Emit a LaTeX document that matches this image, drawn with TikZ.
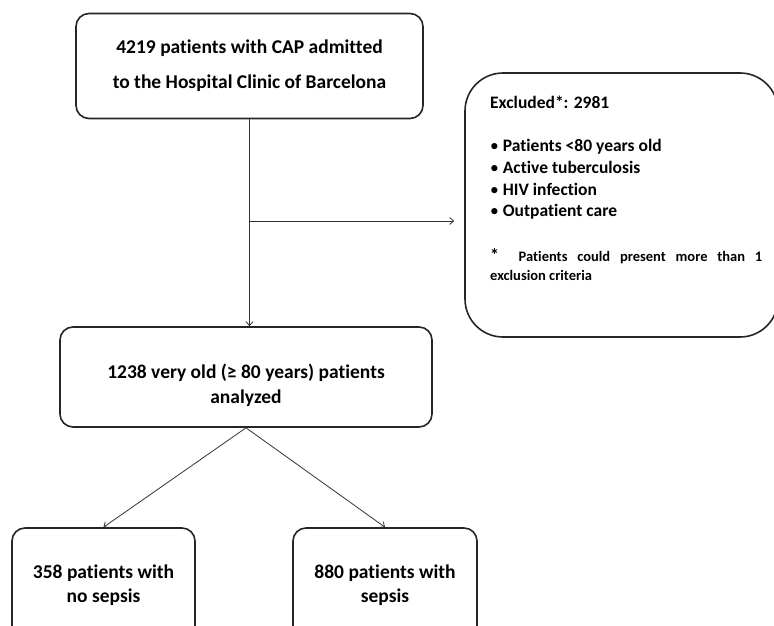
\documentclass[tikz,border=0pt]{standalone}
\usepackage{fontspec}
\setmainfont{Carlito}[Ligatures=NoCommon]
\usetikzlibrary{arrows.meta}
\newcommand{\blt}{{\mdseries •}\ }

\begin{document}
\begin{tikzpicture}[x=1pt,y=-1pt,
  every node/.style={font=\bfseries},
  box/.style={draw=black!85,line width=1.6pt,rounded corners=13pt,align=center,inner sep=0pt},
  arr/.style={draw=black!80,line width=0.8pt,-{Straight Barb[length=4pt,width=7pt]}}]
\useasboundingbox (0,0) rectangle (774,626);
            \node[box,minimum width=347pt,minimum height=105pt,font=\bfseries\fontsize{19.5}{35}\selectfont] (cap) at (249.5,66) {4219 patients with CAP admitted\\to the Hospital Clinic of Barcelona};
            \node[box,minimum width=313pt,minimum height=264pt,rounded corners=38pt] (excl) at (621.5,205) {};
            \node[anchor=north west,inner sep=0pt,text width=272pt,align=justify] (exctext) at (490,96)
              {\hyphenpenalty=10000\exhyphenpenalty=10000
               \fontsize{17.5}{21.8}\selectfont Excluded*: 2981\par\vspace{21pt}
               \blt Patients <80 years old\par \blt Active tuberculosis\par \blt HIV infection\par \blt Outpatient care\par\vspace{25pt}
               \fontsize{14.5}{19.5}\selectfont {\fontsize{18}{19.5}\selectfont *}\ \ Patients could present more than 1 exclusion criteria\par};
            \node[box,minimum width=372pt,minimum height=100pt,font=\bfseries\fontsize{19.5}{25}\selectfont] (old) at (246,377)
              {\raisebox{-13pt}[0pt][0pt]{\parbox{360pt}{\centering 1238 very old (≥ 80 years) patients\\analyzed}}};
            \node[box,minimum width=183pt,minimum height=115pt,font=\bfseries\fontsize{19.5}{24}\selectfont] (nosep) at (103.5,585.5) {358 patients with\\no sepsis};
            \node[box,minimum width=184pt,minimum height=115pt,font=\bfseries\fontsize{19.5}{24}\selectfont] (sep) at (385,585.5) {880 patients with\\sepsis};
            \coordinate (split) at (cap.south |- 0,221);
              \draw[arr] (cap.south) -- (cap.south |- old.north);
              \draw[arr,shorten >=10pt] (split) -- (split -| excl.west);
              \draw[arr] (old.south) -- (nosep.north);
              \draw[arr] (old.south) -- (sep.north);
\end{tikzpicture}
\end{document}
